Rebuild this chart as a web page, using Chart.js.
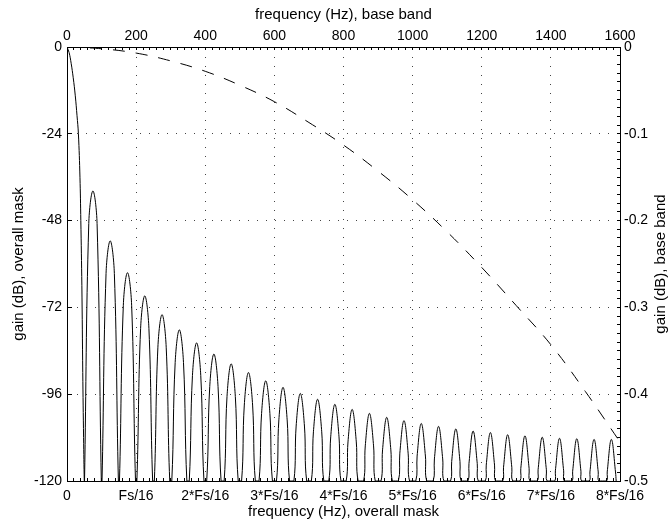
<!DOCTYPE html>
<html>
<head>
<meta charset="utf-8">
<script src="https://cdn.jsdelivr.net/npm/chart.js@4.4.0/dist/chart.umd.min.js"></script>
<style>
  html, body { margin: 0; padding: 0; background: #fff; }
  #wrap { width: 669px; height: 525px; }
</style>
</head>
<body>
<div id="wrap"><canvas id="myChart" width="669" height="525"></canvas></div>
<script>
// main lobe of the overall mask (Hz, dB)
const mainLobeHz = [0, 6, 12, 18, 24, 29, 33, 37.5, 40, 43, 45.6, 48, 50];
const mainLobeDb = [0, -1.5, -4.5, -8.5, -13.5, -19, -24, -36, -48, -66, -90, -108, -120];

// side lobes: centre, peak level, level 12 Hz off the peak, half width at -120 dB
const lobePeakHz = [75, 125, 175, 225, 275, 325, 375, 425, 475, 525, 575, 625, 675, 725, 775, 825,
  875, 925, 975, 1025, 1075, 1125, 1175, 1225, 1275, 1325, 1375, 1425, 1475, 1525, 1575];
const lobePeakDb = [-39.8, -53.6, -62.4, -68.8, -74.0, -78.2, -81.8, -84.9, -87.6, -90.0, -92.3,
  -94.1, -95.8, -97.4, -98.8, -100.2, -101.3, -102.4, -103.3, -104.1, -104.9, -105.6, -106.2,
  -106.6, -107.2, -107.5, -107.9, -108.2, -108.3, -108.5, -108.5];
const lobeShoulderDb = [-48.8, -62.6, -71.4, -77.8, -83.0, -87.2, -90.8, -93.9, -96.6, -99.0, -101.3,
  -103.1, -104.8, -106.4, -107.8, -109.2, -110.3, -111.4, -112.3, -113.1, -113.9, -114.6, -115.2,
  -115.6, -116.2, -116.5, -116.9, -117.2, -117.3, -117.5, -117.5];
const lobeFootHz = [24.3, 23.7, 23.2, 22.8, 22.3, 21.8, 21.3, 20.8, 20.3, 19.9, 19.4, 19.0, 18.5,
  18.1, 17.7, 17.3, 16.9, 16.5, 16.2, 15.9, 15.6, 15.3, 15.0, 14.8, 14.6, 14.4, 14.2, 14.0, 14.0,
  13.9, 13.9];
const shoulderHz = 12;

// base band gain (right axis)
const baseHz = [0, 100, 200, 300, 400, 500, 600, 700, 800, 900, 1000, 1100, 1200, 1300, 1400, 1500, 1600];
const baseDb = [0, -0.002, -0.007, -0.016, -0.028, -0.044, -0.063, -0.087, -0.113, -0.143, -0.176,
  -0.213, -0.254, -0.298, -0.343, -0.397, -0.455];

// tick labels
const topTickStep = 200;
const leftTickStep = 24;
const rightTickStep = 0.1;

// build point lists for the library
const maskPoints = [];
for (let i = 0; i < mainLobeHz.length; i++) {
  maskPoints.push({x: mainLobeHz[i], y: mainLobeDb[i]});
}
for (let k = 0; k < lobePeakHz.length; k++) {
  const c = lobePeakHz[k];
  maskPoints.push({x: c - lobeFootHz[k], y: -120});
  maskPoints.push({x: c - shoulderHz, y: lobeShoulderDb[k]});
  maskPoints.push({x: c, y: lobePeakDb[k]});
  maskPoints.push({x: c + shoulderHz, y: lobeShoulderDb[k]});
  maskPoints.push({x: c + lobeFootHz[k], y: -120});
}
const basePoints = baseHz.map((f, i) => ({x: f, y: baseDb[i]}));

Chart.defaults.font.family = '"Liberation Sans", Arial, Helvetica, sans-serif';
Chart.defaults.font.size = 14;
Chart.defaults.color = '#000';

const gridDots = [1, 8];
const isMajor = (v, step) => Math.abs(v / step - Math.round(v / step)) < 1e-6;

// right axis title reads bottom to top, like the left one
const rightTitle = {
  id: 'rightTitle',
  afterDraw(chart) {
    const {ctx} = chart;
    const s = chart.scales.yR;
    ctx.save();
    ctx.translate(s.right - 8, (s.top + s.bottom) / 2);
    ctx.rotate(-Math.PI / 2);
    ctx.font = '15px "Liberation Sans", Arial, Helvetica, sans-serif';
    ctx.fillStyle = '#000';
    ctx.textAlign = 'center';
    ctx.textBaseline = 'middle';
    ctx.fillText('gain (dB), base band', 0, 0);
    ctx.restore();
  }
};

const config = {
  type: 'line',
  data: {
    datasets: [{
      label: 'overall mask',
      data: maskPoints,
      xAxisID: 'xB',
      yAxisID: 'yL',
      borderColor: '#000',
      borderWidth: 1,
      pointRadius: 0,
      tension: 0.4,
      fill: false
    }, {
      label: 'base band',
      data: basePoints,
      xAxisID: 'xT',
      yAxisID: 'yR',
      borderColor: '#000',
      borderWidth: 1,
      borderDash: [12, 11],
      pointRadius: 0,
      tension: 0.4,
      fill: false
    }]
  },
  options: {
    responsive: false,
    animation: false,
    events: [],
    layout: { padding: 0 },
    plugins: {
      legend: { display: false },
      tooltip: { enabled: false }
    },
    scales: {
      xT: {
        type: 'linear',
        position: 'top',
        min: 0,
        max: 1600,
        afterFit: s => { s.height = 47; },
        ticks: {
          stepSize: 20,
          autoSkip: false,
          maxRotation: 0,
          minRotation: 0,
          padding: 5,
          callback: v => isMajor(v, topTickStep) ? String(v) : ''
        },
        grid: {
          color: c => (c.tick && isMajor(c.tick.value, topTickStep)) ? '#444' : 'rgba(0,0,0,0)',
          tickColor: '#000',
          tickLength: -3,
          lineWidth: 1
        },
        border: { display: true, color: '#000', width: 1, dash: gridDots },
        title: {
          display: true,
          text: 'frequency (Hz), base band',
          font: { size: 15 },
          padding: { top: 5.5, bottom: 0 }
        }
      },
      xB: {
        type: 'linear',
        position: 'bottom',
        min: 0,
        max: 1600,
        afterFit: s => { s.height = 44; },
        ticks: {
          stepSize: 20,
          autoSkip: false,
          maxRotation: 0,
          minRotation: 0,
          padding: 10,
          callback: v => {
            if (!isMajor(v, topTickStep)) return '';
            const n = Math.round(v / topTickStep);
            if (n === 0) return '0';
            if (n === 1) return 'Fs/16';
            return n + '*Fs/16';
          }
        },
        grid: {
          drawOnChartArea: false,
          tickColor: '#000',
          tickLength: -3
        },
        border: { display: true, color: '#000', width: 1 },
        title: {
          display: true,
          text: 'frequency (Hz), overall mask',
          font: { size: 15 },
          padding: { top: 0, bottom: 4 }
        }
      },
      yL: {
        type: 'linear',
        position: 'left',
        min: -120,
        max: 0,
        afterFit: s => { s.width = 67; },
        ticks: {
          stepSize: leftTickStep,
          padding: 10
        },
        grid: {
          color: '#444',
          tickColor: '#000',
          tickLength: -5,
          lineWidth: 1
        },
        border: { display: true, color: '#000', width: 1, dash: gridDots },
        title: {
          display: true,
          text: 'gain (dB), overall mask',
          font: { size: 15 },
          padding: { top: 10, bottom: 0 }
        }
      },
      yR: {
        type: 'linear',
        position: 'right',
        min: -0.5,
        max: 0,
        afterFit: s => { s.width = 49; },
        ticks: {
          stepSize: 0.01,
          autoSkip: false,
          padding: 7,
          callback: v => isMajor(v, rightTickStep) ? String(Math.round(v * 10) / 10) : ''
        },
        grid: {
          drawOnChartArea: false,
          tickColor: '#000',
          tickLength: -3
        },
        border: { display: true, color: '#000', width: 1 }
      }
    }
  },
  plugins: [rightTitle]
};

const myChart = new Chart(document.getElementById('myChart'), config);
</script>
</body>
</html>
